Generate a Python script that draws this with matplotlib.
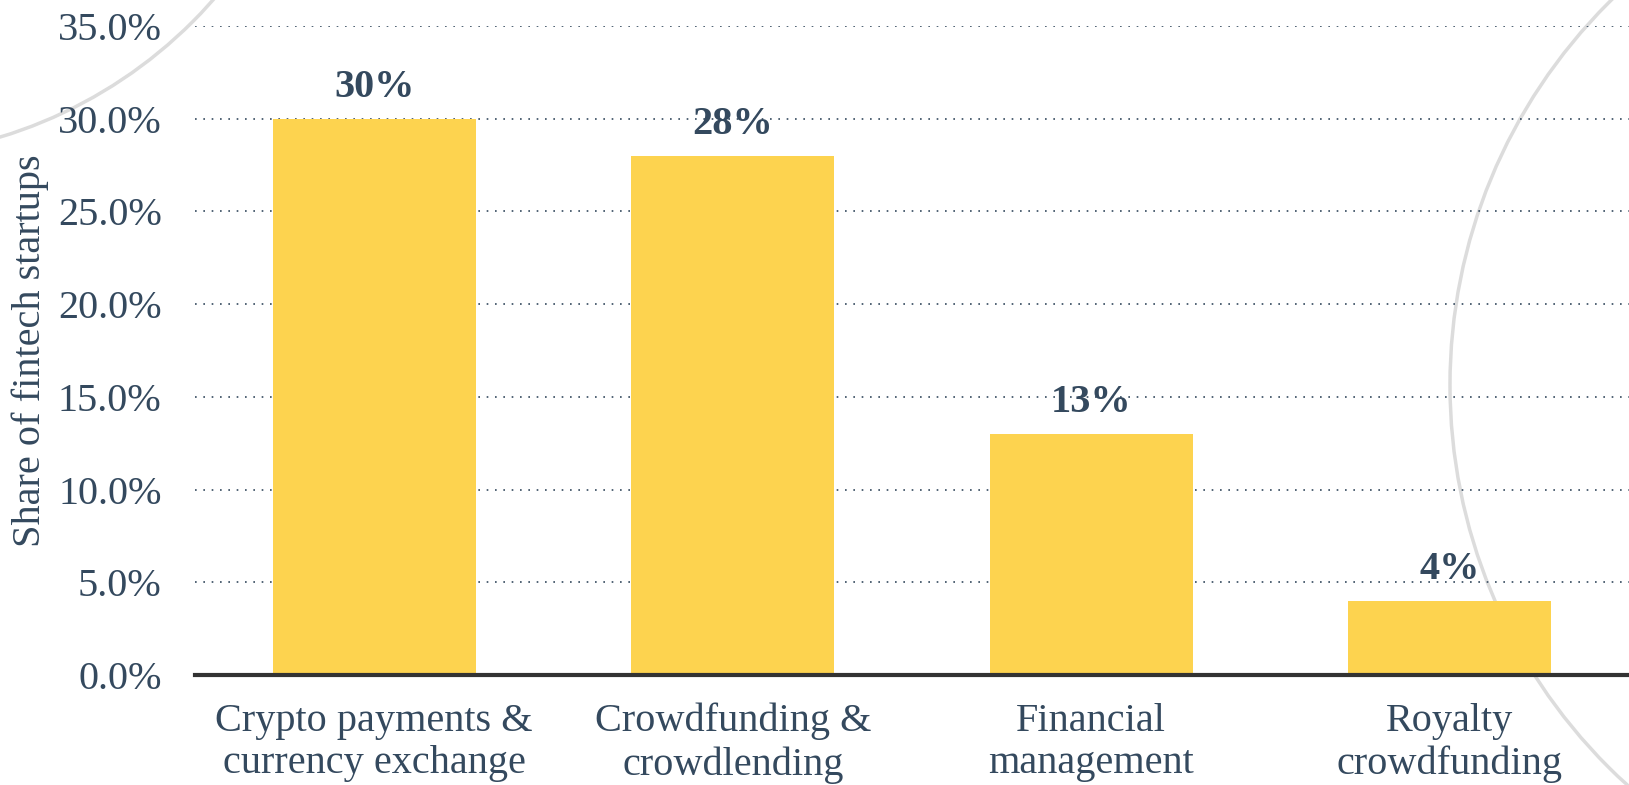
import matplotlib.pyplot as plt
from matplotlib.patches import Circle
from matplotlib.transforms import IdentityTransform

categories = ['Crypto payments &\ncurrency exchange', 'Crowdfunding &\ncrowdlending',
              'Financial\nmanagement', 'Royalty\ncrowdfunding']
shares = [30, 28, 13, 4]
yticks = [0, 5, 10, 15, 20, 25, 30, 35]

text_color = '#34495e'
bar_color = '#fdd34f'

plt.rcParams['font.family'] = ['Liberation Serif', 'DejaVu Serif']

fig = plt.figure(figsize=(16.29, 7.85), dpi=100)
ax = fig.add_axes([0.1197, 0.1401, 0.8803, 0.8268])

# faint decorative arcs behind the chart (pixel coordinates)
for centre, radius in [((-134, 1090), 462), ((1990, 400), 540)]:
    fig.patches.append(Circle(centre, radius, transform=IdentityTransform(), fill=False,
                              edgecolor='#dcdcdc', linewidth=2.5, zorder=-10))
ax.set_facecolor('none')

x = range(len(categories))
ax.bar(x, shares, width=0.565, color=bar_color, zorder=3)

for i, v in enumerate(shares):
    ax.text(i, v + 0.7, f'{v}%', ha='center', va='bottom', fontsize=29,
            fontweight='bold', color=text_color, zorder=4)

ax.set_xlim(-0.5, 3.5)
ax.set_ylim(0, 35)
ax.set_yticks(yticks)
ax.set_yticklabels([f'{t:.1f}%' for t in yticks])
ax.set_xticks(list(x))
ax.set_xticklabels(categories)

ax.tick_params(axis='y', length=0, pad=24, labelsize=29, labelcolor=text_color)
ax.tick_params(axis='x', length=0, pad=20, labelsize=29, labelcolor=text_color)
ax.yaxis.grid(True, linestyle=(0, (1, 4)), color=text_color, linewidth=1.2, zorder=0)

for s in ['top', 'right', 'left']:
    ax.spines[s].set_visible(False)
ax.spines['bottom'].set_color('#333333')
ax.spines['bottom'].set_linewidth(3)
ax.spines['bottom'].set_zorder(5)

ax.set_ylabel('Share of fintech startups', fontsize=29, color=text_color)
ax.yaxis.set_label_coords(-0.102, 0.5)

fig.savefig('out.png', dpi=100)
